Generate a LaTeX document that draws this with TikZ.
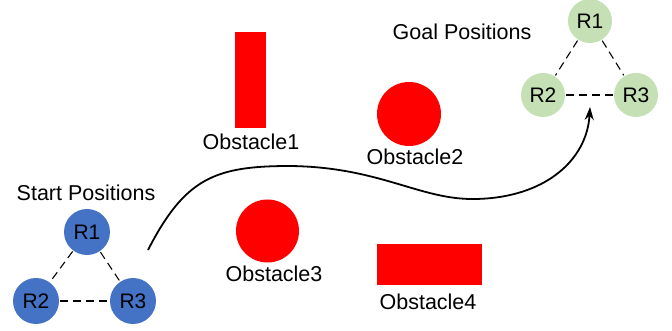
\documentclass[tikz,border=0pt]{standalone}
\usepackage{fontspec}
\setmainfont{Liberation Sans}
\usetikzlibrary{arrows.meta}
\definecolor{startblue}{HTML}{4472C4}
\definecolor{goalgreen}{HTML}{C5E0B4}
\definecolor{obsred}{HTML}{FF0000}
\begin{document}
\begin{tikzpicture}[x=1pt,y=-1pt,
  robot/.style={circle,inner sep=0pt,minimum size=46pt,
    font=\fontsize{21}{24}\selectfont},
  startbot/.style={robot,fill=startblue},
  goalbot/.style={robot,fill=goalgreen},
  link/.style={dash pattern=on 8pt off 5pt,line width=1.1pt,shorten <=1pt,shorten >=1pt},
  obsbox/.style={rectangle,fill=obsred,inner sep=0pt},
  obsdisc/.style={circle,fill=obsred,inner sep=0pt,minimum size=64pt},
  caption/.style={inner sep=0pt,font=\fontsize{21.5}{25}\selectfont},
  route/.style={line width=1.8pt,-{Stealth[length=13pt,width=9pt]}}]
\useasboundingbox (0,0) rectangle (672,331);

% start formation
\node[caption] (starttitle) at (86,193) {Start Positions};
\node[startbot] (s1) at (87,232) {R1};
\node[startbot] (s2) at (36,301) {R2};
\node[startbot] (s3) at (133,301) {R3};
\draw[link] (s1) -- (s2);
\draw[link] (s1) -- (s3);
\draw[link] (s2) -- (s3);

% goal formation
\node[caption] (goaltitle) at (462,32) {Goal Positions};
\node[goalbot,minimum size=44pt] (g1) at (590,21) {R1};
\node[goalbot,minimum size=44pt] (g2) at (543,95) {R2};
\node[goalbot,minimum size=44pt] (g3) at (636,95) {R3};
\draw[link] (g1) -- (g2);
\draw[link] (g1) -- (g3);
\draw[link] (g2) -- (g3);

% obstacles
\node[obsbox,minimum width=31pt,minimum height=96pt] (o1) at (250.5,80) {};
\node[caption] (o1lab) at (251,142) {Obstacle1};
\node[obsdisc] (o2) at (409,114) {};
\node[caption] (o2lab) at (415,157) {Obstacle2};
\node[obsdisc,minimum size=63pt] (o3) at (267.5,231) {};
\node[caption] (o3lab) at (274,274) {Obstacle3};
\node[obsbox,minimum width=105pt,minimum height=41pt] (o4) at (429.5,264.5) {};
\node[caption] (o4lab) at (428,302) {Obstacle4};

% planned route
\coordinate (routestart) at (148,250);
\coordinate (routeend) at (590,107);
\draw[route] (routestart) .. controls (185,178) and (215,166) .. (290,166)
  .. controls (380,167) and (420,200) .. (475,199)
  .. controls (545,198) and (587,160) .. (routeend);
\end{tikzpicture}
\end{document}
